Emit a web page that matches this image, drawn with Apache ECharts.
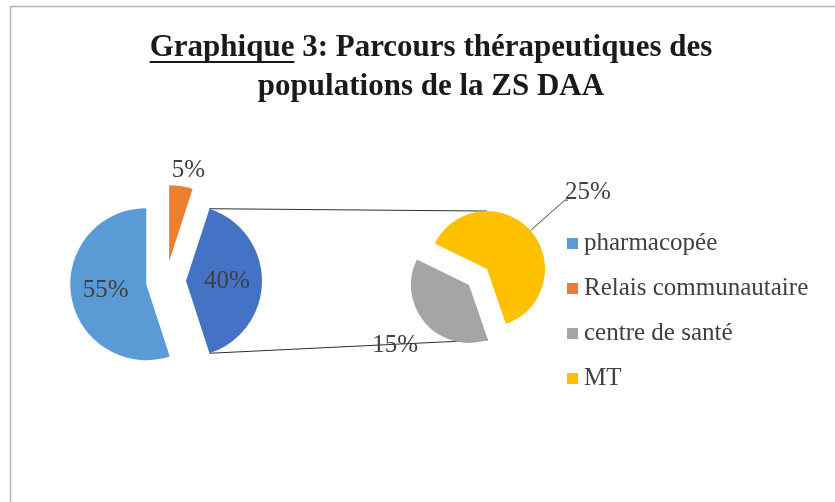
<!DOCTYPE html>
<html>
<head>
<meta charset="utf-8">
<script src="https://cdn.jsdelivr.net/npm/echarts@6.0.0/dist/echarts.min.js"></script>
<style>
  html, body { margin: 0; padding: 0; background: #fff; }
  #chart { width: 835px; height: 502px; }
</style>
</head>
<body>
<div id="chart"></div>
<script>
// données
const mainNames = ['pharmacopée', 'Relais communautaire', 'Autres']
const mainValues = [55, 5, 40]
const subNames = ['centre de santé', 'MT']
const subValues = [15, 25]
const legendNames = ['pharmacopée', 'Relais communautaire', 'centre de santé', 'MT']
const titleLines = ['Graphique 3: Parcours thérapeutiques des', 'populations de la ZS DAA']

const mainColors = ['#5B9BD5', '#ED7D31', '#4472C4']
const subColors = ['#A5A5A5', '#FFC000']

const serif = '"Liberation Serif", "Times New Roman", serif'
const labelStyle = { fontFamily: serif, fontSize: 25, color: '#404040' }

// géométrie des deux secteurs
const mainCenter = [166, 281], mainR = 76, mainOffset = 20
const subCenter = [478, 277], subR = 58, subOffset = 12
const subStart = 289

const otherHalf = mainValues[2] / 100 * 180
const mainStart = 360 - otherHalf

function rad(a) { return a * Math.PI / 180 }
function pt(c, r, a) { return [c[0] + r * Math.cos(rad(a)), c[1] - r * Math.sin(rad(a))] }

// lignes de liaison entre les deux secteurs
const darkC = pt(mainCenter, mainOffset, 0)
const mainTop = pt(darkC, mainR, otherHalf)
const mainBot = pt(darkC, mainR, -otherHalf)
const subTotal = subValues[0] + subValues[1]
const graySweep = subValues[0] / subTotal * 360
const grayMid = subStart - graySweep / 2
const yellowMid = subStart - graySweep - (360 - graySweep) / 2
const yellowC = pt(subCenter, subOffset, yellowMid)
const grayC = pt(subCenter, subOffset, grayMid)
const subTop = pt(yellowC, subR, 90)
const subBot = pt(grayC, subR, subStart)

// soulignement du mot "Graphique"
const titleSize = 31
const ctx = document.createElement('canvas').getContext('2d')
ctx.font = 'bold ' + titleSize + 'px ' + serif
const w1 = ctx.measureText(titleLines[0]).width
const wU = ctx.measureText('Graphique').width
const titleX = 431
const ulX = titleX - w1 / 2

const chart = echarts.init(document.getElementById('chart'), null, { renderer: 'canvas' })

chart.setOption({
  backgroundColor: '#fff',
  animation: false,
  legend: {
    data: legendNames,
    orient: 'vertical',
    left: 562,
    top: 226,
    icon: 'rect',
    itemWidth: 11,
    itemHeight: 11,
    itemGap: 20,
    selectedMode: false,
    textStyle: { fontFamily: serif, fontSize: 25, color: '#404040', lineHeight: 25, padding: [0, 0, 0, 1] }
  },
  graphic: [
    {
      type: 'rect', silent: true, z: 0,
      shape: { x: 10.5, y: 6.5, width: 900, height: 600 },
      style: { fill: 'none', stroke: '#b4b4b4', lineWidth: 1.5 }
    },
    {
      type: 'text', x: titleX, y: 48,
      style: { text: titleLines[0], fontFamily: serif, fontSize: titleSize, fontWeight: 'bold', fill: '#1a1a1a', align: 'center', verticalAlign: 'middle' }
    },
    {
      type: 'text', x: titleX, y: 87,
      style: { text: titleLines[1], fontFamily: serif, fontSize: titleSize, fontWeight: 'bold', fill: '#1a1a1a', align: 'center', verticalAlign: 'middle' }
    },
    {
      type: 'line', silent: true,
      shape: { x1: ulX, y1: 62, x2: ulX + wU, y2: 62 },
      style: { stroke: '#1a1a1a', lineWidth: 2 }
    },
    {
      type: 'line', silent: true, z: 1,
      shape: { x1: mainTop[0], y1: mainTop[1], x2: subTop[0], y2: subTop[1] },
      style: { stroke: '#303030', lineWidth: 1 }
    },
    {
      type: 'line', silent: true, z: 1,
      shape: { x1: mainBot[0], y1: mainBot[1], x2: subBot[0], y2: subBot[1] },
      style: { stroke: '#303030', lineWidth: 1 }
    }
  ],
  series: [
    {
      type: 'pie',
      name: 'principal',
      center: mainCenter,
      radius: mainR,
      startAngle: mainStart,
      clockwise: true,
      avoidLabelOverlap: false,
      selectedMode: 'multiple',
      selectedOffset: mainOffset,
      emphasis: { disabled: true },
      label: { position: 'inside', formatter: '{c}%', ...labelStyle },
      labelLine: { show: false },
      labelLayout: p => (p.dataIndex === 1 ? { align: 'center' } : {}),
      data: mainValues.map((v, i) => {
        const item = { name: mainNames[i], value: v, selected: true, itemStyle: { color: mainColors[i] } }
        if (i === 1) {
          item.label = { position: 'outside' }
          item.labelLine = { show: false, length: 16, length2: 0 }
        }
        return item
      })
    },
    {
      type: 'pie',
      name: 'détail',
      center: subCenter,
      radius: subR,
      startAngle: subStart,
      clockwise: true,
      avoidLabelOverlap: false,
      selectedMode: 'multiple',
      selectedOffset: subOffset,
      emphasis: { disabled: true },
      label: { position: 'outside', formatter: '{c}%', ...labelStyle },
      labelLayout: p => (p.dataIndex === 0 ? { align: 'center' } : { dx: -8, dy: -8 }),
      data: subValues.map((v, i) => {
        const item = { name: subNames[i], value: v, selected: true, itemStyle: { color: subColors[i] } }
        if (i === 0) {
          item.labelLine = { show: false, length: 34, length2: 0 }
        } else {
          item.labelLine = { show: true, length: 46, length2: 3, lineStyle: { color: '#404040', width: 1 } }
        }
        return item
      })
    }
  ]
})
</script>
</body>
</html>
